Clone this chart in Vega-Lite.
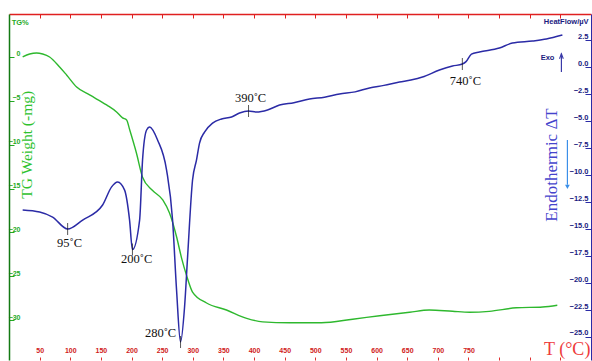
{
  "$schema": "https://vega.github.io/schema/vega-lite/v6.json",
  "autosize": "none",
  "padding": {"left": 9, "top": 14, "right": 1, "bottom": 1},
  "width": 582,
  "height": 346,
  "background": "white",
  "config": {"view": {"stroke": null}},
  "datasets": {
    "tg": [
      {"T": 22.3, "TG": 0}, {"T": 33.7, "TG": 0.34}, {"T": 45, "TG": 0.46}, {"T": 55, "TG": 0.34},
      {"T": 66.3, "TG": 0}, {"T": 82.6, "TG": -1.14}, {"T": 94, "TG": -2.05}, {"T": 110.4, "TG": -3.42},
      {"T": 131.6, "TG": -4.33}, {"T": 159.3, "TG": -5.47}, {"T": 175.6, "TG": -6.27}, {"T": 185.4, "TG": -6.95},
      {"T": 192, "TG": -7.18}, {"T": 197, "TG": -8.3}, {"T": 208, "TG": -10.95}, {"T": 218, "TG": -13.7},
      {"T": 234, "TG": -15.2}, {"T": 251, "TG": -16.3}, {"T": 262, "TG": -17.8}, {"T": 273.5, "TG": -20.5},
      {"T": 281.6, "TG": -22.9}, {"T": 289.8, "TG": -24.9}, {"T": 299.6, "TG": -26.8}, {"T": 322.5, "TG": -28.05},
      {"T": 355, "TG": -28.85}, {"T": 388, "TG": -29.8}, {"T": 414, "TG": -30.2}, {"T": 458, "TG": -30.3},
      {"T": 510, "TG": -30.3}, {"T": 561, "TG": -29.9}, {"T": 605, "TG": -29.5}, {"T": 654, "TG": -29.1},
      {"T": 686, "TG": -28.85}, {"T": 724, "TG": -29.0}, {"T": 752, "TG": -29.1}, {"T": 784, "TG": -29.0},
      {"T": 828, "TG": -28.6}, {"T": 871, "TG": -28.5}, {"T": 895, "TG": -28.3}
    ],
    "dta": [
      {"T": 22.3, "HF": -13.24}, {"T": 50, "HF": -13.43}, {"T": 71.2, "HF": -13.9}, {"T": 95.7, "HF": -15.0},
      {"T": 120.2, "HF": -14.17}, {"T": 152.8, "HF": -12.78}, {"T": 167.5, "HF": -11.1}, {"T": 177.3, "HF": -10.65},
      {"T": 188.7, "HF": -11.4}, {"T": 196.8, "HF": -14.17}, {"T": 201.5, "HF": -16.9}, {"T": 213.2, "HF": -14.17},
      {"T": 218, "HF": -8.6}, {"T": 224.6, "HF": -5.83}, {"T": 229.5, "HF": -5.56}, {"T": 242.5, "HF": -6.76},
      {"T": 257.2, "HF": -9.54}, {"T": 267, "HF": -14.17}, {"T": 273.5, "HF": -20.65}, {"T": 280, "HF": -25.46},
      {"T": 286.6, "HF": -22.2}, {"T": 291.5, "HF": -17.6}, {"T": 299.6, "HF": -10.46}, {"T": 306.1, "HF": -8.6},
      {"T": 311, "HF": -7.04}, {"T": 319.2, "HF": -6.02}, {"T": 332.3, "HF": -5.19}, {"T": 346.9, "HF": -4.81},
      {"T": 363.3, "HF": -4.63}, {"T": 376.3, "HF": -4.26}, {"T": 391, "HF": -4.07}, {"T": 404, "HF": -4.17},
      {"T": 422, "HF": -3.98}, {"T": 441.6, "HF": -3.52}, {"T": 465, "HF": -3.3}, {"T": 490.5, "HF": -2.96},
      {"T": 515, "HF": -2.8}, {"T": 539.5, "HF": -2.5}, {"T": 565, "HF": -2.3}, {"T": 588.4, "HF": -1.94},
      {"T": 612, "HF": -1.7}, {"T": 637.4, "HF": -1.39}, {"T": 656, "HF": -1.2}, {"T": 674.9, "HF": -0.93},
      {"T": 702.6, "HF": -0.28}, {"T": 723.9, "HF": 0.09}, {"T": 740, "HF": 0.28}, {"T": 746, "HF": 0.5},
      {"T": 754.8, "HF": 1.2}, {"T": 767.9, "HF": 1.39}, {"T": 800.5, "HF": 1.76}, {"T": 821.7, "HF": 2.22},
      {"T": 854.4, "HF": 2.41}, {"T": 877.2, "HF": 2.59}, {"T": 903.3, "HF": 2.96}
    ],
    "peaks": [
      {"T": 95.7, "HF": -15.0, "lT": 98.9, "lHF": -16.3, "label": "95˚C"},
      {"T": 201.5, "HF": -16.9, "lT": 208.3, "lHF": -17.8, "label": "200˚C"},
      {"T": 280, "HF": -25.46, "lT": 247.4, "lHF": -24.6, "label": "280˚C"},
      {"T": 391, "HF": -4.07, "lT": 394.3, "lHF": -2.87, "label": "390˚C"},
      {"T": 740, "HF": 0.28, "lT": 745, "lHF": -1.3, "label": "740˚C"}
    ]
  },
  "resolve": {"scale": {"y": "independent"}, "axis": {"x": "independent", "y": "independent"}},
  "layer": [
    {
      "data": {"name": "tg"},
      "mark": {"type": "line", "color": "#2eb82e", "strokeWidth": 1.4, "interpolate": "monotone"},
      "encoding": {
        "x": {"field": "T", "type": "quantitative",
              "scale": {"domain": [0, 950], "nice": false, "zero": false},
              "axis": {"orient": "bottom", "title": null, "domain": false, "grid": false,
                       "values": [50,100,150,200,250,300,350,400,450,500,550,600,650,700,750,800,850,900],
                       "labelExpr": "datum.value <= 750 ? datum.label : ''",
                       "tickColor": "#e03030", "tickSize": -3, "labelPadding": -4, "labelBaseline": "bottom",
                       "labelColor": "#d02020", "labelFont": "Liberation Sans", "labelFontWeight": "bold",
                       "labelFontSize": 7, "labelFlush": false, "labelOverlap": false}},
        "y": {"field": "TG", "type": "quantitative",
              "scale": {"domain": [-34.55, 4.9], "nice": false, "zero": false},
              "axis": {"orient": "left", "title": null, "grid": false,
                       "values": [0, -5, -10, -15, -20, -25, -30],
                       "domainColor": "#137a13", "domainWidth": 1.5,
                       "tickColor": "#22aa22", "tickSize": -5, "labelPadding": -6,
                       "labelAlign": "right", "labelBaseline": "bottom", "labelOffset": 0,
                       "labelColor": "#1faa1f", "labelFont": "Liberation Sans", "labelFontWeight": "bold",
                       "labelFontSize": 7, "labelFlush": false, "labelOverlap": false}}
      }
    },
    {
      "data": {"name": "dta"},
      "mark": {"type": "line", "color": "#2b2ba6", "strokeWidth": 1.5, "interpolate": "monotone"},
      "encoding": {
        "x": {"field": "T", "type": "quantitative",
              "axis": {"orient": "top", "title": null, "grid": false, "labels": false,
                       "values": [50,100,150,200,250,300,350,400,450,500,550,600,650,700,750,800,850,900],
                       "domainColor": "#e02020", "domainWidth": 1.5,
                       "tickColor": "#e02020", "tickSize": -4}},
        "y": {"field": "HF", "type": "quantitative",
              "scale": {"domain": [-27.13, 4.91], "nice": false, "zero": false},
              "axis": {"orient": "right", "title": null, "grid": false,
                       "values": [2.5, 0, -2.5, -5, -7.5, -10, -12.5, -15, -17.5, -20, -22.5, -25],
                       "format": ".1f",
                       "domainColor": "#2b2ba6", "domainWidth": 1,
                       "tickColor": "#2b2ba6", "tickSize": -6, "labelPadding": 3,
                       "labelAlign": "right", "labelBaseline": "bottom",
                       "labelColor": "#1b1b80", "labelFont": "Liberation Sans", "labelFontWeight": "bold",
                       "labelFontSize": 7.5, "labelFlush": false, "labelOverlap": false}}
      }
    },
    {
      "layer": [
        {
          "data": {"name": "peaks"},
          "mark": {"type": "tick", "orient": "vertical", "size": 12, "thickness": 1, "color": "#111111"},
          "encoding": {
            "x": {"field": "T", "type": "quantitative", "axis": null},
            "y": {"field": "HF", "type": "quantitative", "axis": null,
                  "scale": {"domain": [-27.13, 4.91], "nice": false, "zero": false}}
          }
        },
        {
          "data": {"name": "peaks"},
          "mark": {"type": "text", "font": "Liberation Serif", "fontSize": 12.5, "color": "#111111", "baseline": "middle", "align": "center"},
          "encoding": {
            "x": {"field": "lT", "type": "quantitative", "axis": null},
            "y": {"field": "lHF", "type": "quantitative", "axis": null},
            "text": {"field": "label"}
          }
        },
        {
          "data": {"values": [{"T": 4.3, "HF": 4.07, "txt": "TG%"}]},
          "mark": {"type": "text", "font": "Liberation Sans", "fontWeight": "bold", "fontSize": 7.5, "color": "#1faa1f", "align": "left", "baseline": "middle"},
          "encoding": {
            "x": {"field": "T", "type": "quantitative", "axis": null},
            "y": {"field": "HF", "type": "quantitative", "axis": null},
            "text": {"field": "txt"}
          }
        },
        {
          "data": {"values": [{"T": 946, "HF": 4.17, "txt": "HeatFlow/µV"}]},
          "mark": {"type": "text", "font": "Liberation Sans", "fontWeight": "bold", "fontSize": 7.5, "color": "#1b1b80", "align": "right", "baseline": "middle"},
          "encoding": {
            "x": {"field": "T", "type": "quantitative", "axis": null},
            "y": {"field": "HF", "type": "quantitative", "axis": null},
            "text": {"field": "txt"}
          }
        },
        {
          "data": {"values": [{"T": 879, "HF": 0.83, "txt": "Exo"}]},
          "mark": {"type": "text", "font": "Liberation Sans", "fontWeight": "bold", "fontSize": 7.5, "color": "#1b1b80", "align": "center", "baseline": "middle"},
          "encoding": {
            "x": {"field": "T", "type": "quantitative", "axis": null},
            "y": {"field": "HF", "type": "quantitative", "axis": null},
            "text": {"field": "txt"}
          }
        },
        {
          "data": {"values": [{"T": 29, "HF": -7.2, "txt": "TG Weight (-mg)"}]},
          "mark": {"type": "text", "font": "Liberation Serif", "fontSize": 15.5, "color": "#2ec22e", "angle": 270, "align": "center", "baseline": "middle"},
          "encoding": {
            "x": {"field": "T", "type": "quantitative", "axis": null},
            "y": {"field": "HF", "type": "quantitative", "axis": null},
            "text": {"field": "txt"}
          }
        },
        {
          "data": {"values": [{"T": 887, "HF": -9.07, "txt": "Endothermic ΔT"}]},
          "mark": {"type": "text", "font": "Liberation Serif", "fontSize": 17, "color": "#4444cc", "angle": 270, "align": "center", "baseline": "middle"},
          "encoding": {
            "x": {"field": "T", "type": "quantitative", "axis": null},
            "y": {"field": "HF", "type": "quantitative", "axis": null},
            "text": {"field": "txt"}
          }
        },
        {
          "data": {"values": [{"T": 949, "HF": -26.2, "txt": "T (°C)"}]},
          "mark": {"type": "text", "font": "Liberation Serif", "fontSize": 18, "color": "#ee3b3b", "align": "right", "baseline": "middle"},
          "encoding": {
            "x": {"field": "T", "type": "quantitative", "axis": null},
            "y": {"field": "HF", "type": "quantitative", "axis": null},
            "text": {"field": "txt"}
          }
        },
        {
          "data": {"values": [{"T": 901.7, "HF": -0.46, "HF2": 1.25}]},
          "mark": {"type": "rule", "strokeWidth": 1.2, "color": "#3a3aa8"},
          "encoding": {
            "x": {"field": "T", "type": "quantitative", "axis": null},
            "y": {"field": "HF", "type": "quantitative", "axis": null},
            "y2": {"field": "HF2"}
          }
        },
        {
          "data": {"values": [{"T": 911.5, "HF": -6.76, "HF2": -10.9}]},
          "mark": {"type": "rule", "strokeWidth": 1.2, "color": "#3b8fe8"},
          "encoding": {
            "x": {"field": "T", "type": "quantitative", "axis": null},
            "y": {"field": "HF", "type": "quantitative", "axis": null},
            "y2": {"field": "HF2"}
          }
        },
        {
          "data": {"values": [{"T": 901.7, "HF": 1.0}]},
          "mark": {"type": "point", "shape": "M -0.6 0.8 L 0 -0.8 L 0.6 0.8", "filled": false, "size": 40, "strokeWidth": 1.1, "color": "#3a3aa8", "opacity": 1},
          "encoding": {
            "x": {"field": "T", "type": "quantitative", "axis": null},
            "y": {"field": "HF", "type": "quantitative", "axis": null}
          }
        },
        {
          "data": {"values": [{"T": 911.5, "HF": -11.1}]},
          "mark": {"type": "point", "shape": "triangle-down", "filled": true, "size": 22, "color": "#3b8fe8", "opacity": 1},
          "encoding": {
            "x": {"field": "T", "type": "quantitative", "axis": null},
            "y": {"field": "HF", "type": "quantitative", "axis": null}
          }
        }
      ]
    }
  ]
}
